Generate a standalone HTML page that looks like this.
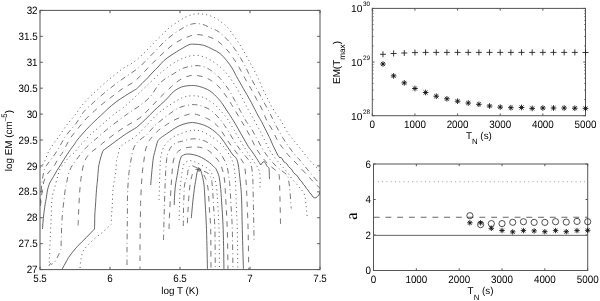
<!DOCTYPE html>
<html><head><meta charset="utf-8"><style>
html,body{margin:0;padding:0;background:#fff;}
svg{display:block;will-change:transform;}
text{font-family:"Liberation Sans",sans-serif;fill:#000;text-rendering:geometricPrecision;}
</style></head><body>
<svg width="600" height="301" viewBox="0 0 600 301">
<defs><clipPath id="cl"><rect x="40.0" y="10.4" width="280.0" height="259.20000000000005"/></clipPath></defs>
<rect width="600" height="301" fill="#fff"/>
<g fill="none" clip-path="url(#cl)">
<path d="M40.00,168.00 C40.67,167.13 42.67,165.33 44.00,162.80 C45.33,160.27 46.83,155.30 48.00,152.80 C49.17,150.30 50.00,149.45 51.00,147.80 C52.00,146.15 52.83,144.55 54.00,142.90 C55.17,141.25 56.67,139.73 58.00,137.90 C59.33,136.07 60.67,133.88 62.00,131.90 C63.33,129.92 64.67,127.82 66.00,126.00 C67.33,124.18 68.33,123.00 70.00,121.00 C71.67,119.00 74.27,116.27 76.00,114.00 C77.73,111.73 78.68,109.67 80.40,107.40 C82.12,105.13 84.35,102.53 86.30,100.40 C88.25,98.27 90.07,96.53 92.10,94.60 C94.13,92.67 96.27,90.85 98.50,88.80 C100.73,86.75 102.92,84.52 105.50,82.30 C108.08,80.08 111.13,77.78 114.00,75.50 C116.87,73.22 119.93,70.52 122.70,68.60 C125.47,66.68 128.17,65.55 130.60,64.00 C133.03,62.45 135.08,61.13 137.30,59.30 C139.52,57.47 141.68,55.13 143.90,53.00 C146.12,50.87 148.53,48.62 150.60,46.50 C152.67,44.38 154.32,42.32 156.30,40.30 C158.28,38.28 160.38,36.45 162.50,34.40 C164.62,32.35 166.75,29.90 169.00,28.00 C171.25,26.10 173.67,24.58 176.00,23.00 C178.33,21.42 180.13,19.97 183.00,18.50 C185.87,17.03 189.85,14.93 193.20,14.20 C196.55,13.47 200.60,13.93 203.10,14.10 C205.60,14.27 206.53,14.73 208.20,15.20 C209.87,15.67 211.63,16.27 213.10,16.90 C214.57,17.53 215.60,18.10 217.00,19.00 C218.40,19.90 219.85,21.02 221.50,22.30 C223.15,23.58 224.93,24.58 226.90,26.70 C228.87,28.82 231.13,31.97 233.30,35.00 C235.47,38.03 237.97,41.87 239.90,44.90 C241.83,47.93 243.23,50.27 244.90,53.20 C246.57,56.13 248.38,59.70 249.90,62.50 C251.42,65.30 252.62,67.37 254.00,70.00 C255.38,72.63 256.67,74.98 258.20,78.30 C259.73,81.62 261.53,86.30 263.20,89.90 C264.87,93.50 266.55,96.72 268.20,99.90 C269.85,103.08 271.72,106.65 273.10,109.00 C274.48,111.35 275.10,111.90 276.50,114.00 C277.90,116.10 279.57,118.38 281.50,121.60 C283.43,124.82 285.88,129.97 288.10,133.30 C290.32,136.63 292.58,138.83 294.80,141.60 C297.02,144.37 299.20,147.13 301.40,149.90 C303.60,152.67 305.73,155.52 308.00,158.20 C310.27,160.88 312.67,163.53 315.00,166.00 C317.33,168.47 320.83,171.83 322.00,173.00 " stroke="#5a5a5a" stroke-width="1" stroke-dasharray="1 3.25"/>
<path d="M40.30,204.00 C40.38,202.67 40.60,198.83 40.80,196.00 C41.00,193.17 41.22,189.92 41.50,187.00 C41.78,184.08 42.08,181.17 42.50,178.50 C42.92,175.83 43.50,172.92 44.00,171.00 C44.50,169.08 44.92,168.17 45.50,167.00 C46.08,165.83 46.58,165.25 47.50,164.00 C48.42,162.75 49.75,161.17 51.00,159.50 C52.25,157.83 53.67,156.00 55.00,154.00 C56.33,152.00 57.67,149.75 59.00,147.50 C60.33,145.25 61.83,142.50 63.00,140.50 C64.17,138.50 64.67,137.33 66.00,135.50 C67.33,133.67 69.33,131.50 71.00,129.50 C72.67,127.50 74.50,125.50 76.00,123.50 C77.50,121.50 78.67,119.50 80.00,117.50 C81.33,115.50 81.70,114.05 84.00,111.50 C86.30,108.95 90.50,105.22 93.80,102.20 C97.10,99.18 100.30,96.32 103.80,93.40 C107.30,90.48 111.10,87.52 114.80,84.70 C118.50,81.88 122.08,79.28 126.00,76.50 C129.92,73.72 134.63,71.00 138.30,68.00 C141.97,65.00 144.88,61.62 148.00,58.50 C151.12,55.38 153.90,52.47 157.00,49.30 C160.10,46.13 162.78,42.75 166.60,39.50 C170.42,36.25 175.75,32.37 179.90,29.80 C184.05,27.23 187.90,25.05 191.50,24.10 C195.10,23.15 198.18,23.40 201.50,24.10 C204.82,24.80 208.48,26.98 211.40,28.30 C214.32,29.62 216.15,29.88 219.00,32.00 C221.85,34.12 225.57,37.73 228.50,41.00 C231.43,44.27 233.97,47.68 236.60,51.60 C239.23,55.52 241.95,60.18 244.30,64.50 C246.65,68.82 248.52,73.27 250.70,77.50 C252.88,81.73 255.18,85.75 257.40,89.90 C259.62,94.05 261.93,98.52 264.00,102.40 C266.07,106.28 267.72,109.17 269.80,113.20 C271.88,117.23 274.28,122.43 276.50,126.60 C278.72,130.77 280.88,134.60 283.10,138.20 C285.32,141.80 287.58,145.15 289.80,148.20 C292.02,151.25 294.73,154.53 296.40,156.50 C298.07,158.47 297.90,157.77 299.80,160.00 C301.70,162.23 304.80,166.27 307.80,169.90 C310.80,173.53 315.43,179.12 317.80,181.80 C320.17,184.48 321.30,185.30 322.00,186.00 " stroke="#666" stroke-width="0.9" stroke-dasharray="5.5 3.2 0.9 3.2"/>
<path d="M40.50,206.00 C40.63,204.67 41.05,200.25 41.30,198.00 C41.55,195.75 41.75,194.33 42.00,192.50 C42.25,190.67 42.50,188.78 42.80,187.00 C43.10,185.22 43.38,183.35 43.80,181.80 C44.22,180.25 44.72,179.00 45.30,177.70 C45.88,176.40 46.52,175.15 47.30,174.00 C48.08,172.85 49.05,171.92 50.00,170.80 C50.95,169.68 52.17,168.35 53.00,167.30 C53.83,166.25 54.00,166.18 55.00,164.50 C56.00,162.82 57.83,159.03 59.00,157.20 C60.17,155.37 61.02,154.98 62.00,153.50 C62.98,152.02 64.07,149.88 64.90,148.30 C65.73,146.72 66.00,145.82 67.00,144.00 C68.00,142.18 69.03,140.03 70.90,137.40 C72.77,134.77 75.60,131.38 78.20,128.20 C80.80,125.02 83.78,121.18 86.50,118.30 C89.22,115.42 91.62,113.48 94.50,110.90 C97.38,108.32 100.70,105.32 103.80,102.80 C106.90,100.28 109.97,98.17 113.10,95.80 C116.23,93.43 119.27,90.83 122.60,88.60 C125.93,86.37 129.98,84.67 133.10,82.40 C136.22,80.13 138.62,77.63 141.30,75.00 C143.98,72.37 146.55,69.33 149.20,66.60 C151.85,63.87 154.58,61.12 157.20,58.60 C159.82,56.08 161.95,54.07 164.90,51.50 C167.85,48.93 171.30,45.55 174.90,43.20 C178.50,40.85 182.90,38.83 186.50,37.40 C190.10,35.97 192.90,34.73 196.50,34.60 C200.10,34.47 204.60,35.53 208.10,36.60 C211.60,37.67 214.35,38.78 217.50,41.00 C220.65,43.22 224.37,47.03 227.00,49.90 C229.63,52.77 231.28,55.28 233.30,58.20 C235.32,61.12 237.17,64.05 239.10,67.40 C241.03,70.75 242.97,74.82 244.90,78.30 C246.83,81.78 248.77,84.83 250.70,88.30 C252.63,91.77 254.57,95.50 256.50,99.10 C258.43,102.70 260.63,106.42 262.30,109.90 C263.97,113.38 264.83,116.67 266.50,120.00 C268.17,123.33 270.50,126.58 272.30,129.90 C274.10,133.22 275.63,136.98 277.30,139.90 C278.97,142.82 280.50,144.90 282.30,147.40 C284.10,149.90 285.82,152.30 288.10,154.90 C290.38,157.50 292.68,159.48 296.00,163.00 C299.32,166.52 304.75,172.50 308.00,176.00 C311.25,179.50 313.17,181.67 315.50,184.00 C317.83,186.33 320.92,189.00 322.00,190.00 " stroke="#666" stroke-width="0.9" stroke-dasharray="5.5 5.5"/>
<path d="M42.50,229.00 C42.58,227.83 42.80,224.33 43.00,222.00 C43.20,219.67 43.37,217.83 43.70,215.00 C44.03,212.17 44.57,207.80 45.00,205.00 C45.43,202.20 45.88,200.70 46.30,198.20 C46.72,195.70 46.95,192.50 47.50,190.00 C48.05,187.50 49.25,184.33 49.60,183.20 L49.60,183.20 C50.25,182.08 52.27,178.62 53.50,176.50 C54.73,174.38 55.83,172.42 57.00,170.50 C58.17,168.58 59.33,166.87 60.50,165.00 C61.67,163.13 62.87,161.10 64.00,159.30 C65.13,157.50 66.22,155.83 67.30,154.20 C68.38,152.57 69.38,151.05 70.50,149.50 C71.62,147.95 72.87,146.50 74.00,144.90 C75.13,143.30 75.20,142.50 77.30,139.90 C79.40,137.30 83.50,132.62 86.60,129.30 C89.70,125.98 93.33,122.48 95.90,120.00 C98.47,117.52 99.43,116.78 102.00,114.40 C104.57,112.02 108.18,108.32 111.30,105.70 C114.42,103.08 117.58,100.85 120.70,98.70 C123.82,96.55 127.38,94.42 130.00,92.80 C132.62,91.18 135.33,89.63 136.40,89.00 L136.40,89.00 C137.33,88.08 140.15,85.33 142.00,83.50 C143.85,81.67 145.67,79.92 147.50,78.00 C149.33,76.08 151.25,73.83 153.00,72.00 C154.75,70.17 156.17,68.92 158.00,67.00 C159.83,65.08 162.00,62.33 164.00,60.50 C166.00,58.67 167.92,57.45 170.00,56.00 C172.08,54.55 174.30,53.17 176.50,51.80 C178.70,50.43 181.12,48.98 183.20,47.80 C185.28,46.62 187.20,45.30 189.00,44.70 C190.80,44.10 191.58,44.10 194.00,44.20 C196.42,44.30 200.33,44.42 203.50,45.30 C206.67,46.18 210.25,48.13 213.00,49.50 C215.75,50.87 217.73,51.67 220.00,53.50 C222.27,55.33 224.60,58.08 226.60,60.50 C228.60,62.92 230.33,65.32 232.00,68.00 C233.67,70.68 234.73,73.22 236.60,76.60 C238.47,79.98 240.98,84.42 243.20,88.30 C245.42,92.18 247.95,96.37 249.90,99.90 C251.85,103.43 253.55,106.90 254.90,109.50 C256.25,112.10 256.90,113.48 258.00,115.50 C259.10,117.52 259.80,118.37 261.50,121.60 C263.20,124.83 266.78,132.08 268.20,134.90 C269.62,137.72 269.70,137.90 270.00,138.50 L270.00,138.50 L271.50,142.00 L273.00,145.50 L276.00,151.50 L278.00,155.50 L280.00,158.00 L281.00,157.20 L282.00,158.50 L284.00,162.00 L285.50,162.60 L287.00,164.00 L288.50,166.50 L290.00,168.00 L291.00,168.60 L292.00,170.00 L293.50,172.60 L295.00,174.00 L296.50,175.00 L298.00,177.00 L300.00,180.00 L302.00,182.00 L303.50,184.60 L305.00,186.00 L306.50,188.60 L308.00,190.00 L309.50,192.60 L311.00,194.00 L313.00,197.00 L315.00,198.00 L316.50,197.50 L317.50,196.00 L319.00,195.00 L320.00,192.00 L322.00,190.00 " stroke="#555" stroke-width="0.9"/>
<path d="M49.30,262.50 C49.30,262.02 49.22,261.68 49.30,259.60 C49.38,257.52 49.65,253.40 49.80,250.00 C49.95,246.60 50.03,242.87 50.20,239.20 C50.37,235.53 50.63,231.70 50.80,228.00 C50.97,224.30 50.98,221.97 51.20,217.00 C51.42,212.03 51.53,203.00 52.10,198.20 C52.67,193.40 53.63,191.98 54.60,188.20 C55.57,184.42 56.92,178.87 57.90,175.50 C58.88,172.13 59.33,170.17 60.50,168.00 C61.67,165.83 63.48,164.33 64.90,162.50 C66.32,160.67 67.48,158.60 69.00,157.00 C70.52,155.40 72.62,154.25 74.00,152.90 C75.38,151.55 76.30,150.12 77.30,148.90 C78.30,147.68 79.00,146.70 80.00,145.60 C81.00,144.50 81.97,143.73 83.30,142.30 C84.63,140.87 86.23,138.78 88.00,137.00 C89.77,135.22 91.07,134.10 93.90,131.60 C96.73,129.10 101.32,125.15 105.00,122.00 C108.68,118.85 113.00,115.03 116.00,112.70 C119.00,110.37 119.83,110.62 123.00,108.00 C126.17,105.38 131.17,100.58 135.00,97.00 C138.83,93.42 142.12,90.18 146.00,86.50 C149.88,82.82 155.13,77.73 158.30,74.90 C161.47,72.07 162.52,71.43 165.00,69.50 C167.48,67.57 170.17,65.17 173.20,63.30 C176.23,61.43 179.87,59.62 183.20,58.30 C186.53,56.98 189.88,55.68 193.20,55.40 C196.52,55.12 199.78,55.57 203.10,56.60 C206.42,57.63 210.03,59.67 213.10,61.60 C216.17,63.53 218.98,65.88 221.50,68.20 C224.02,70.52 225.82,72.43 228.20,75.50 C230.58,78.57 233.43,82.82 235.80,86.60 C238.17,90.38 240.47,94.60 242.40,98.20 C244.33,101.80 245.63,104.90 247.40,108.20 C249.17,111.50 251.07,114.53 253.00,118.00 C254.93,121.47 257.17,125.50 259.00,129.00 C260.83,132.50 262.25,135.50 264.00,139.00 C265.75,142.50 267.67,146.83 269.50,150.00 C271.33,153.17 273.08,155.50 275.00,158.00 C276.92,160.50 279.00,162.67 281.00,165.00 C283.00,167.33 285.00,169.50 287.00,172.00 C289.00,174.50 290.83,177.33 293.00,180.00 C295.17,182.67 298.07,185.50 300.00,188.00 C301.93,190.50 303.60,192.17 304.60,195.00 C305.60,197.83 305.57,201.42 306.00,205.00 C306.43,208.58 307.00,214.58 307.20,216.50 " stroke="#5a5a5a" stroke-width="1" stroke-dasharray="1 3.25"/>
<path d="M48.80,266.00 L50.30,263.60 L51.60,264.30 L54.50,262.30 L54.50,262.30 C54.90,261.63 56.12,259.75 56.90,258.30 C57.68,256.85 58.52,255.07 59.20,253.60 C59.88,252.13 60.70,250.18 61.00,249.50 L61.00,249.50 C61.07,246.85 61.18,239.35 61.40,233.60 C61.62,227.85 61.87,220.60 62.30,215.00 C62.73,209.40 63.48,204.47 64.00,200.00 C64.52,195.53 64.97,191.03 65.40,188.20 C65.83,185.37 66.17,185.03 66.60,183.00 C67.03,180.97 67.45,178.17 68.00,176.00 C68.55,173.83 69.15,171.83 69.90,170.00 C70.65,168.17 71.43,166.68 72.50,165.00 C73.57,163.32 75.05,161.57 76.30,159.90 C77.55,158.23 78.45,156.95 80.00,155.00 C81.55,153.05 83.93,150.03 85.60,148.20 C87.27,146.37 88.35,145.48 90.00,144.00 C91.65,142.52 92.17,142.13 95.50,139.30 C98.83,136.47 104.65,131.25 110.00,127.00 C115.35,122.75 122.67,117.33 127.60,113.80 C132.53,110.27 135.87,108.60 139.60,105.80 C143.33,103.00 146.88,100.47 150.00,97.00 C153.12,93.53 155.80,88.00 158.30,85.00 C160.80,82.00 162.52,80.83 165.00,79.00 C167.48,77.17 170.17,75.80 173.20,74.00 C176.23,72.20 179.60,69.58 183.20,68.20 C186.80,66.82 191.48,65.97 194.80,65.70 C198.12,65.43 200.33,65.77 203.10,66.60 C205.87,67.43 208.58,68.75 211.40,70.70 C214.22,72.65 217.18,75.23 220.00,78.30 C222.82,81.37 225.82,85.37 228.30,89.10 C230.78,92.83 232.83,96.97 234.90,100.70 C236.97,104.43 238.85,108.12 240.70,111.50 C242.55,114.88 244.33,118.33 246.00,121.00 C247.67,123.67 248.95,124.67 250.70,127.50 C252.45,130.33 254.62,134.58 256.50,138.00 C258.38,141.42 260.08,144.83 262.00,148.00 C263.92,151.17 265.83,154.17 268.00,157.00 C270.17,159.83 272.67,162.67 275.00,165.00 C277.33,167.33 280.00,169.33 282.00,171.00 C284.00,172.67 285.90,173.50 287.00,175.00 C288.10,176.50 288.10,177.17 288.60,180.00 C289.10,182.83 289.55,187.25 290.00,192.00 C290.45,196.75 291.08,205.75 291.30,208.50 " stroke="#666" stroke-width="0.9" stroke-dasharray="5.5 3.2 0.9 3.2"/>
<path d="M78.10,225.50 C78.17,223.75 78.32,219.25 78.50,215.00 C78.68,210.75 78.95,204.50 79.20,200.00 C79.45,195.50 79.62,192.17 80.00,188.00 C80.38,183.83 81.00,178.50 81.50,175.00 C82.00,171.50 82.42,169.42 83.00,167.00 C83.58,164.58 84.17,162.42 85.00,160.50 C85.83,158.58 86.83,157.00 88.00,155.50 C89.17,154.00 90.25,152.97 92.00,151.50 C93.75,150.03 96.17,148.53 98.50,146.70 C100.83,144.87 102.75,143.03 106.00,140.50 C109.25,137.97 114.33,134.08 118.00,131.50 C121.67,128.92 124.40,127.25 128.00,125.00 C131.60,122.75 135.93,120.83 139.60,118.00 C143.27,115.17 146.60,111.42 150.00,108.00 C153.40,104.58 156.40,101.08 160.00,97.50 C163.60,93.92 168.28,89.43 171.60,86.50 C174.92,83.57 176.87,81.70 179.90,79.90 C182.93,78.10 186.77,76.40 189.80,75.70 C192.83,75.00 195.57,75.40 198.10,75.70 C200.63,76.00 202.78,76.67 205.00,77.50 C207.22,78.33 208.90,78.95 211.40,80.70 C213.90,82.45 217.32,85.08 220.00,88.00 C222.68,90.92 225.28,94.97 227.50,98.20 C229.72,101.43 231.22,103.98 233.30,107.40 C235.38,110.82 237.92,115.22 240.00,118.70 C242.08,122.18 243.88,124.92 245.80,128.30 C247.72,131.68 249.72,135.55 251.50,139.00 C253.28,142.45 254.75,146.00 256.50,149.00 C258.25,152.00 260.08,154.50 262.00,157.00 C263.92,159.50 266.00,162.00 268.00,164.00 C270.00,166.00 272.33,167.58 274.00,169.00 C275.67,170.42 277.12,171.17 278.00,172.50 C278.88,173.83 278.97,172.42 279.30,177.00 C279.63,181.58 279.78,191.67 280.00,200.00 C280.22,208.33 280.50,222.50 280.60,227.00 " stroke="#666" stroke-width="0.9" stroke-dasharray="5.5 5.5"/>
<path d="M60.00,273.00 C60.38,272.32 61.30,270.73 62.30,268.90 C63.30,267.07 64.77,264.17 66.00,262.00 C67.23,259.83 67.83,258.47 69.70,255.90 C71.57,253.33 74.40,249.70 77.20,246.60 C80.00,243.50 83.62,240.23 86.50,237.30 C89.38,234.37 93.17,230.38 94.50,229.00 L94.50,229.00 C94.53,227.83 94.65,224.33 94.70,222.00 C94.75,219.67 94.67,217.83 94.80,215.00 C94.93,212.17 95.22,209.20 95.50,205.00 C95.78,200.80 96.17,193.97 96.50,189.80 C96.83,185.63 97.20,183.30 97.50,180.00 C97.80,176.70 98.05,172.58 98.30,170.00 C98.55,167.42 98.55,166.73 99.00,164.50 C99.45,162.27 100.33,158.92 101.00,156.60 C101.67,154.28 102.67,151.60 103.00,150.60 L103.00,150.60 C104.65,149.38 109.58,145.73 112.90,143.30 C116.22,140.87 120.62,137.63 122.90,136.00 C125.18,134.37 124.32,134.93 126.60,133.50 C128.88,132.07 134.93,128.42 136.60,127.40 L136.60,127.40 C137.98,126.15 141.87,122.80 144.90,119.90 C147.93,117.00 151.33,113.32 154.80,110.00 C158.27,106.68 162.63,103.00 165.70,100.00 C168.77,97.00 170.57,94.17 173.20,92.00 C175.83,89.83 178.45,88.08 181.50,87.00 C184.55,85.92 188.45,85.57 191.50,85.50 C194.55,85.43 196.75,85.72 199.80,86.60 C202.85,87.48 206.77,88.85 209.80,90.80 C212.83,92.75 215.88,96.10 218.00,98.30 C220.12,100.50 221.10,102.07 222.50,104.00 C223.90,105.93 225.23,108.15 226.40,109.90 C227.57,111.65 228.07,112.27 229.50,114.50 C230.93,116.73 232.98,119.90 235.00,123.30 C237.02,126.70 239.38,131.03 241.60,134.90 C243.82,138.77 246.63,143.82 248.30,146.50 C249.97,149.18 250.22,149.03 251.60,151.00 C252.98,152.97 255.08,155.97 256.60,158.30 C258.12,160.63 260.02,163.88 260.70,165.00 L260.70,165.00 C261.25,164.43 262.88,161.33 264.00,161.60 C265.12,161.87 266.57,165.48 267.40,166.60 C268.23,167.72 268.68,167.07 269.00,168.30 C269.32,169.53 269.22,172.20 269.30,174.00 C269.38,175.80 269.47,178.25 269.50,179.10 " stroke="#555" stroke-width="0.9"/>
<path d="M80.00,272.00 C80.00,271.48 79.85,270.97 80.00,268.90 C80.15,266.83 80.28,262.70 80.90,259.60 C81.52,256.50 81.85,253.40 83.70,250.30 C85.55,247.20 88.75,244.10 92.00,241.00 C95.25,237.90 100.00,234.48 103.20,231.70 C106.40,228.92 109.87,225.53 111.20,224.30 L111.20,224.30 C111.27,222.75 111.42,218.22 111.60,215.00 C111.78,211.78 112.05,209.47 112.30,205.00 C112.55,200.53 112.55,193.50 113.10,188.20 C113.65,182.90 115.02,177.90 115.60,173.20 C116.18,168.50 116.18,163.03 116.60,160.00 C117.02,156.97 117.53,157.08 118.10,155.00 C118.67,152.92 118.68,149.58 120.00,147.50 C121.32,145.42 124.33,143.75 126.00,142.50 C127.67,141.25 128.33,141.08 130.00,140.00 C131.67,138.92 133.78,137.83 136.00,136.00 C138.22,134.17 139.87,132.52 143.30,129.00 C146.73,125.48 152.17,118.92 156.60,114.90 C161.03,110.88 165.47,107.82 169.90,104.90 C174.33,101.98 179.32,98.92 183.20,97.40 C187.08,95.88 189.88,95.80 193.20,95.80 C196.52,95.80 199.78,96.15 203.10,97.40 C206.42,98.65 210.05,100.93 213.10,103.30 C216.15,105.67 218.92,108.83 221.40,111.60 C223.88,114.37 225.90,116.83 228.00,119.90 C230.10,122.97 231.83,126.32 234.00,130.00 C236.17,133.68 238.67,138.17 241.00,142.00 C243.33,145.83 245.83,149.67 248.00,153.00 C250.17,156.33 252.33,159.50 254.00,162.00 C255.67,164.50 257.00,165.83 258.00,168.00 C259.00,170.17 259.67,171.33 260.00,175.00 C260.33,178.67 260.00,187.50 260.00,190.00 " stroke="#5a5a5a" stroke-width="1" stroke-dasharray="1 3.25"/>
<path d="M127.00,265.00 C127.00,262.50 126.97,255.83 127.00,250.00 C127.03,244.17 127.13,235.83 127.20,230.00 C127.27,224.17 127.37,220.00 127.40,215.00 C127.43,210.00 127.30,205.00 127.40,200.00 C127.50,195.00 127.72,189.73 128.00,185.00 C128.28,180.27 128.60,175.77 129.10,171.60 C129.60,167.43 130.35,163.60 131.00,160.00 C131.65,156.40 132.17,152.67 133.00,150.00 C133.83,147.33 134.67,145.83 136.00,144.00 C137.33,142.17 139.17,140.58 141.00,139.00 C142.83,137.42 144.67,136.75 147.00,134.50 C149.33,132.25 151.47,128.77 155.00,125.50 C158.53,122.23 164.05,117.92 168.20,114.90 C172.35,111.88 175.73,109.12 179.90,107.40 C184.07,105.68 189.33,104.73 193.20,104.60 C197.07,104.47 200.07,105.58 203.10,106.60 C206.13,107.62 208.63,108.63 211.40,110.70 C214.17,112.77 217.48,116.50 219.70,119.00 C221.92,121.50 222.98,123.20 224.70,125.70 C226.42,128.20 228.12,130.95 230.00,134.00 C231.88,137.05 234.00,141.00 236.00,144.00 C238.00,147.00 240.17,149.67 242.00,152.00 C243.83,154.33 245.50,156.00 247.00,158.00 C248.50,160.00 250.08,161.17 251.00,164.00 C251.92,166.83 252.17,171.50 252.50,175.00 C252.83,178.50 252.83,179.17 253.00,185.00 C253.17,190.83 253.35,202.50 253.50,210.00 C253.65,217.50 253.82,224.58 253.90,230.00 C253.98,235.42 253.98,240.42 254.00,242.50 " stroke="#666" stroke-width="0.9" stroke-dasharray="5.5 3.2 0.9 3.2"/>
<path d="M140.00,272.00 C140.00,268.33 139.97,257.00 140.00,250.00 C140.03,243.00 140.12,236.67 140.20,230.00 C140.28,223.33 140.42,215.03 140.50,210.00 C140.58,204.97 140.53,204.13 140.70,199.80 C140.87,195.47 141.22,188.70 141.50,184.00 C141.78,179.30 141.98,175.60 142.40,171.60 C142.82,167.60 143.48,163.60 144.00,160.00 C144.52,156.40 144.83,152.75 145.50,150.00 C146.17,147.25 147.25,145.23 148.00,143.50 C148.75,141.77 148.28,141.77 150.00,139.60 C151.72,137.43 155.53,133.00 158.30,130.50 C161.07,128.00 163.48,126.55 166.60,124.60 C169.72,122.65 173.13,120.57 177.00,118.80 C180.87,117.03 186.28,114.65 189.80,114.00 C193.32,113.35 194.77,113.92 198.10,114.90 C201.43,115.88 206.48,117.97 209.80,119.90 C213.12,121.83 215.63,123.98 218.00,126.50 C220.37,129.02 222.00,132.08 224.00,135.00 C226.00,137.92 228.00,141.17 230.00,144.00 C232.00,146.83 234.17,149.50 236.00,152.00 C237.83,154.50 239.58,156.67 241.00,159.00 C242.42,161.33 243.67,162.50 244.50,166.00 C245.33,169.50 245.58,174.33 246.00,180.00 C246.42,185.67 246.65,191.70 247.00,200.00 C247.35,208.30 247.80,217.80 248.10,229.80 C248.40,241.80 248.68,264.97 248.80,272.00 " stroke="#666" stroke-width="0.9" stroke-dasharray="5.5 5.5"/>
<path d="M150.70,185.00 C150.83,183.33 151.20,178.33 151.50,175.00 C151.80,171.67 152.17,168.00 152.50,165.00 C152.83,162.00 153.08,159.33 153.50,157.00 C153.92,154.67 154.33,153.53 155.00,151.00 C155.67,148.47 156.67,143.88 157.50,141.80 C158.33,139.72 158.48,139.83 160.00,138.50 C161.52,137.17 163.57,135.83 166.60,133.80 C169.63,131.77 174.32,128.15 178.20,126.30 C182.08,124.45 186.30,123.12 189.90,122.70 C193.50,122.28 196.48,122.92 199.80,123.80 C203.12,124.68 206.47,125.92 209.80,128.00 C213.13,130.08 216.75,132.98 219.80,136.30 C222.85,139.62 225.90,144.78 228.10,147.90 C230.30,151.02 231.62,153.23 233.00,155.00 C234.38,156.77 235.52,156.83 236.40,158.50 C237.28,160.17 237.78,162.25 238.30,165.00 C238.82,167.75 239.12,171.67 239.50,175.00 C239.88,178.33 240.25,181.00 240.60,185.00 C240.95,189.00 241.32,191.53 241.60,199.00 C241.88,206.47 241.98,217.63 242.30,229.80 C242.62,241.97 243.30,264.97 243.50,272.00 " stroke="#555" stroke-width="0.9"/>
<path d="M159.00,200.00 C159.05,198.33 159.17,194.17 159.30,190.00 C159.43,185.83 159.63,179.67 159.80,175.00 C159.97,170.33 160.02,165.62 160.30,162.00 C160.58,158.38 160.97,155.72 161.50,153.30 C162.03,150.88 162.65,149.23 163.50,147.50 C164.35,145.77 165.18,144.48 166.60,142.90 C168.02,141.32 170.07,139.38 172.00,138.00 C173.93,136.62 174.95,135.85 178.20,134.60 C181.45,133.35 187.62,131.05 191.50,130.50 C195.38,129.95 197.90,130.07 201.50,131.30 C205.10,132.53 209.52,135.45 213.10,137.90 C216.68,140.35 220.18,142.98 223.00,146.00 C225.82,149.02 228.25,152.92 230.00,156.00 C231.75,159.08 232.67,161.33 233.50,164.50 C234.33,167.67 234.65,171.87 235.00,175.00 C235.35,178.13 235.35,177.47 235.60,183.30 C235.85,189.13 236.22,202.25 236.50,210.00 C236.78,217.75 237.08,219.47 237.30,229.80 C237.52,240.13 237.72,264.97 237.80,272.00 " stroke="#5a5a5a" stroke-width="1" stroke-dasharray="1 3.25"/>
<path d="M163.50,240.00 C163.58,236.67 163.78,227.80 164.00,220.00 C164.22,212.20 164.55,200.70 164.80,193.20 C165.05,185.70 165.20,180.53 165.50,175.00 C165.80,169.47 166.18,163.67 166.60,160.00 C167.02,156.33 167.17,155.30 168.00,153.00 C168.83,150.70 170.27,147.87 171.60,146.20 C172.93,144.53 174.33,143.82 176.00,143.00 C177.67,142.18 178.73,142.00 181.60,141.30 C184.47,140.60 189.60,138.95 193.20,138.80 C196.80,138.65 199.88,139.17 203.20,140.40 C206.52,141.63 210.10,143.82 213.10,146.20 C216.10,148.58 218.92,151.48 221.20,154.70 C223.48,157.92 225.53,161.82 226.80,165.50 C228.07,169.18 228.30,173.55 228.80,176.80 C229.30,180.05 229.43,180.30 229.80,185.00 C230.17,189.70 230.58,197.53 231.00,205.00 C231.42,212.47 231.97,218.63 232.30,229.80 C232.63,240.97 232.88,264.97 233.00,272.00 " stroke="#666" stroke-width="0.9" stroke-dasharray="5.5 3.2 0.9 3.2"/>
<path d="M169.00,229.00 C169.08,226.67 169.23,220.67 169.50,215.00 C169.77,209.33 170.27,200.83 170.60,195.00 C170.93,189.17 171.18,184.50 171.50,180.00 C171.82,175.50 172.17,171.33 172.50,168.00 C172.83,164.67 172.82,162.50 173.50,160.00 C174.18,157.50 174.98,154.92 176.60,153.00 C178.22,151.08 180.43,149.50 183.20,148.50 C185.97,147.50 190.15,147.13 193.20,147.00 C196.25,146.87 198.73,146.95 201.50,147.70 C204.27,148.45 207.02,149.37 209.80,151.50 C212.58,153.63 216.08,157.42 218.20,160.50 C220.32,163.58 221.45,166.75 222.50,170.00 C223.55,173.25 224.00,175.83 224.50,180.00 C225.00,184.17 225.03,186.70 225.50,195.00 C225.97,203.30 226.88,216.97 227.30,229.80 C227.72,242.63 227.88,264.97 228.00,272.00 " stroke="#666" stroke-width="0.9" stroke-dasharray="5.5 5.5"/>
<path d="M174.20,205.00 C174.27,203.33 174.38,198.33 174.60,195.00 C174.82,191.67 175.07,188.28 175.50,185.00 C175.93,181.72 176.53,179.13 177.20,175.30 C177.87,171.47 178.78,165.22 179.50,162.00 C180.22,158.78 181.17,157.00 181.50,156.00 L181.50,156.00 C182.33,155.68 184.52,154.33 186.50,154.10 C188.48,153.87 190.88,154.03 193.40,154.60 C195.92,155.17 198.88,156.13 201.60,157.50 C204.32,158.87 207.30,160.92 209.70,162.80 C212.10,164.68 214.95,167.80 216.00,168.80 L216.00,168.80 C216.50,170.07 218.25,173.38 219.00,176.40 C219.75,179.42 220.08,182.97 220.50,186.90 C220.92,190.83 221.05,192.85 221.50,200.00 C221.95,207.15 222.78,217.80 223.20,229.80 C223.62,241.80 223.87,264.97 224.00,272.00 " stroke="#555" stroke-width="0.9"/>
<path d="M179.10,220.00 C179.17,217.50 179.35,210.00 179.50,205.00 C179.65,200.00 179.75,194.17 180.00,190.00 C180.25,185.83 180.58,183.33 181.00,180.00 C181.42,176.67 181.98,172.67 182.50,170.00 C183.02,167.33 183.05,165.55 184.10,164.00 C185.15,162.45 187.37,161.15 188.80,160.70 C190.23,160.25 191.40,160.97 192.70,161.30 C194.00,161.63 195.28,162.13 196.60,162.70 C197.92,163.27 199.32,164.05 200.60,164.70 C201.88,165.35 203.07,165.95 204.30,166.60 C205.53,167.25 206.88,167.70 208.00,168.60 C209.12,169.50 210.08,170.52 211.00,172.00 C211.92,173.48 212.67,175.50 213.50,177.50 C214.33,179.50 215.33,180.25 216.00,184.00 C216.67,187.75 217.00,192.37 217.50,200.00 C218.00,207.63 218.67,217.80 219.00,229.80 C219.33,241.80 219.42,264.97 219.50,272.00 " stroke="#5a5a5a" stroke-width="1" stroke-dasharray="1 3.25"/>
<path d="M183.30,226.00 C183.33,223.33 183.38,215.17 183.50,210.00 C183.62,204.83 183.83,199.17 184.00,195.00 C184.17,190.83 184.08,187.80 184.50,185.00 C184.92,182.20 185.98,180.12 186.50,178.20 C187.02,176.28 187.27,175.20 187.60,173.50 C187.93,171.80 187.98,169.37 188.50,168.00 C189.02,166.63 189.52,165.42 190.70,165.30 C191.88,165.18 194.05,166.68 195.60,167.30 C197.15,167.92 198.67,168.38 200.00,169.00 C201.33,169.62 202.22,170.25 203.60,171.00 C204.98,171.75 207.07,172.33 208.30,173.50 C209.53,174.67 210.32,175.82 211.00,178.00 C211.68,180.18 211.98,182.10 212.40,186.60 C212.82,191.10 213.08,197.80 213.50,205.00 C213.92,212.20 214.60,218.63 214.90,229.80 C215.20,240.97 215.23,264.97 215.30,272.00 " stroke="#666" stroke-width="0.9" stroke-dasharray="5.5 3.2 0.9 3.2"/>
<path d="M187.40,223.20 C187.50,221.00 187.73,214.70 188.00,210.00 C188.27,205.30 188.67,199.17 189.00,195.00 C189.33,190.83 189.55,188.07 190.00,185.00 C190.45,181.93 191.15,178.77 191.70,176.60 C192.25,174.43 192.67,173.18 193.30,172.00 C193.93,170.82 194.55,169.92 195.50,169.50 C196.45,169.08 197.92,169.17 199.00,169.50 C200.08,169.83 201.00,170.20 202.00,171.50 C203.00,172.80 204.25,175.72 205.00,177.30 C205.75,178.88 205.97,178.88 206.50,181.00 C207.03,183.12 207.70,185.17 208.20,190.00 C208.70,194.83 209.08,203.37 209.50,210.00 C209.92,216.63 210.45,219.47 210.70,229.80 C210.95,240.13 210.95,264.97 211.00,272.00 " stroke="#666" stroke-width="0.9" stroke-dasharray="5.5 5.5"/>
<path d="M191.30,218.20 C191.42,216.83 191.72,213.03 192.00,210.00 C192.28,206.97 192.57,203.83 193.00,200.00 C193.43,196.17 194.13,190.33 194.60,187.00 C195.07,183.67 195.47,182.00 195.80,180.00 C196.13,178.00 196.32,176.58 196.60,175.00 C196.88,173.42 197.17,171.73 197.50,170.50 C197.83,169.27 198.42,168.08 198.60,167.60 L198.60,167.60 C198.92,168.00 200.02,169.10 200.50,170.00 C200.98,170.90 201.15,171.78 201.50,173.00 C201.85,174.22 202.18,175.30 202.60,177.30 C203.02,179.30 203.60,181.22 204.00,185.00 C204.40,188.78 204.58,192.53 205.00,200.00 C205.42,207.47 206.08,217.80 206.50,229.80 C206.92,241.80 207.33,264.97 207.50,272.00 " stroke="#555" stroke-width="0.9"/>
<circle cx="199.1" cy="169.9" r="1.3" fill="none" stroke="#555" stroke-width="0.9"/>
</g>
<rect x="40.0" y="10.4" width="280.00" height="259.20" fill="none" stroke="#555" stroke-width="1.0"/>
<path d="M40.00,269.6 v-2.8 M40.00,10.4 v2.8" stroke="#555" stroke-width="1.0"/>
<text transform="translate(40.00,281.80) scale(0.965,1.05)" text-anchor="middle" font-size="10.2" >5.5</text>
<path d="M110.00,269.6 v-2.8 M110.00,10.4 v2.8" stroke="#555" stroke-width="1.0"/>
<text transform="translate(110.00,281.80) scale(0.965,1.05)" text-anchor="middle" font-size="10.2" >6</text>
<path d="M180.00,269.6 v-2.8 M180.00,10.4 v2.8" stroke="#555" stroke-width="1.0"/>
<text transform="translate(180.00,281.80) scale(0.965,1.05)" text-anchor="middle" font-size="10.2" >6.5</text>
<path d="M250.00,269.6 v-2.8 M250.00,10.4 v2.8" stroke="#555" stroke-width="1.0"/>
<text transform="translate(250.00,281.80) scale(0.965,1.05)" text-anchor="middle" font-size="10.2" >7</text>
<path d="M320.00,269.6 v-2.8 M320.00,10.4 v2.8" stroke="#555" stroke-width="1.0"/>
<text transform="translate(320.00,281.80) scale(0.965,1.05)" text-anchor="middle" font-size="10.2" >7.5</text>
<path d="M40.0,269.60 h2.8 M320.0,269.60 h-2.8" stroke="#555" stroke-width="1.0"/>
<text transform="translate(37.60,273.20) scale(0.965,1.05)" text-anchor="end" font-size="10.2" >27</text>
<path d="M40.0,243.68 h2.8 M320.0,243.68 h-2.8" stroke="#555" stroke-width="1.0"/>
<text transform="translate(37.60,247.28) scale(0.965,1.05)" text-anchor="end" font-size="10.2" >27.5</text>
<path d="M40.0,217.76 h2.8 M320.0,217.76 h-2.8" stroke="#555" stroke-width="1.0"/>
<text transform="translate(37.60,221.36) scale(0.965,1.05)" text-anchor="end" font-size="10.2" >28</text>
<path d="M40.0,191.84 h2.8 M320.0,191.84 h-2.8" stroke="#555" stroke-width="1.0"/>
<text transform="translate(37.60,195.44) scale(0.965,1.05)" text-anchor="end" font-size="10.2" >28.5</text>
<path d="M40.0,165.92 h2.8 M320.0,165.92 h-2.8" stroke="#555" stroke-width="1.0"/>
<text transform="translate(37.60,169.52) scale(0.965,1.05)" text-anchor="end" font-size="10.2" >29</text>
<path d="M40.0,140.00 h2.8 M320.0,140.00 h-2.8" stroke="#555" stroke-width="1.0"/>
<text transform="translate(37.60,143.60) scale(0.965,1.05)" text-anchor="end" font-size="10.2" >29.5</text>
<path d="M40.0,114.08 h2.8 M320.0,114.08 h-2.8" stroke="#555" stroke-width="1.0"/>
<text transform="translate(37.60,117.68) scale(0.965,1.05)" text-anchor="end" font-size="10.2" >30</text>
<path d="M40.0,88.16 h2.8 M320.0,88.16 h-2.8" stroke="#555" stroke-width="1.0"/>
<text transform="translate(37.60,91.76) scale(0.965,1.05)" text-anchor="end" font-size="10.2" >30.5</text>
<path d="M40.0,62.24 h2.8 M320.0,62.24 h-2.8" stroke="#555" stroke-width="1.0"/>
<text transform="translate(37.60,65.84) scale(0.965,1.05)" text-anchor="end" font-size="10.2" >31</text>
<path d="M40.0,36.32 h2.8 M320.0,36.32 h-2.8" stroke="#555" stroke-width="1.0"/>
<text transform="translate(37.60,39.92) scale(0.965,1.05)" text-anchor="end" font-size="10.2" >31.5</text>
<path d="M40.0,10.40 h2.8 M320.0,10.40 h-2.8" stroke="#555" stroke-width="1.0"/>
<text transform="translate(37.60,14.00) scale(0.965,1.05)" text-anchor="end" font-size="10.2" >32</text>
<text x="180.00" y="293.60" text-anchor="middle" font-size="9.9" >log T (K)</text>
<text transform="translate(11.8,140.6) rotate(-90)" text-anchor="middle" font-size="9.9">log EM (cm<tspan dy="-4.6" font-size="6.6">&#8211;</tspan><tspan font-size="8">5</tspan><tspan dy="4.6">)</tspan></text>
<rect x="372.3" y="8.4" width="213.20" height="107.30" fill="none" stroke="#555" stroke-width="1.0"/>
<path d="M372.30,115.7 v-2.2 M372.30,8.4 v2.2" stroke="#555" stroke-width="1.0"/>
<text transform="translate(372.30,128.00) scale(0.965,1.05)" text-anchor="middle" font-size="10.2" >0</text>
<path d="M414.94,115.7 v-2.2 M414.94,8.4 v2.2" stroke="#555" stroke-width="1.0"/>
<text transform="translate(414.94,128.00) scale(0.965,1.05)" text-anchor="middle" font-size="10.2" >1000</text>
<path d="M457.58,115.7 v-2.2 M457.58,8.4 v2.2" stroke="#555" stroke-width="1.0"/>
<text transform="translate(457.58,128.00) scale(0.965,1.05)" text-anchor="middle" font-size="10.2" >2000</text>
<path d="M500.22,115.7 v-2.2 M500.22,8.4 v2.2" stroke="#555" stroke-width="1.0"/>
<text transform="translate(500.22,128.00) scale(0.965,1.05)" text-anchor="middle" font-size="10.2" >3000</text>
<path d="M542.86,115.7 v-2.2 M542.86,8.4 v2.2" stroke="#555" stroke-width="1.0"/>
<text transform="translate(542.86,128.00) scale(0.965,1.05)" text-anchor="middle" font-size="10.2" >4000</text>
<path d="M585.50,115.7 v-2.2 M585.50,8.4 v2.2" stroke="#555" stroke-width="1.0"/>
<text transform="translate(585.50,128.00) scale(0.965,1.05)" text-anchor="middle" font-size="10.2" >5000</text>
<path d="M372.3,99.55 h1.3 M585.5,99.55 h-1.3" stroke="#555" stroke-width="0.8"/>
<path d="M372.3,90.10 h1.3 M585.5,90.10 h-1.3" stroke="#555" stroke-width="0.8"/>
<path d="M372.3,83.40 h1.3 M585.5,83.40 h-1.3" stroke="#555" stroke-width="0.8"/>
<path d="M372.3,78.20 h1.3 M585.5,78.20 h-1.3" stroke="#555" stroke-width="0.8"/>
<path d="M372.3,73.95 h1.3 M585.5,73.95 h-1.3" stroke="#555" stroke-width="0.8"/>
<path d="M372.3,70.36 h1.3 M585.5,70.36 h-1.3" stroke="#555" stroke-width="0.8"/>
<path d="M372.3,67.25 h1.3 M585.5,67.25 h-1.3" stroke="#555" stroke-width="0.8"/>
<path d="M372.3,64.50 h1.3 M585.5,64.50 h-1.3" stroke="#555" stroke-width="0.8"/>
<path d="M372.3,45.90 h1.3 M585.5,45.90 h-1.3" stroke="#555" stroke-width="0.8"/>
<path d="M372.3,36.45 h1.3 M585.5,36.45 h-1.3" stroke="#555" stroke-width="0.8"/>
<path d="M372.3,29.75 h1.3 M585.5,29.75 h-1.3" stroke="#555" stroke-width="0.8"/>
<path d="M372.3,24.55 h1.3 M585.5,24.55 h-1.3" stroke="#555" stroke-width="0.8"/>
<path d="M372.3,20.30 h1.3 M585.5,20.30 h-1.3" stroke="#555" stroke-width="0.8"/>
<path d="M372.3,16.71 h1.3 M585.5,16.71 h-1.3" stroke="#555" stroke-width="0.8"/>
<path d="M372.3,13.60 h1.3 M585.5,13.60 h-1.3" stroke="#555" stroke-width="0.8"/>
<path d="M372.3,10.85 h1.3 M585.5,10.85 h-1.3" stroke="#555" stroke-width="0.8"/>
<path d="M372.3,115.70 h2.2 M585.5,115.70 h-2.2" stroke="#555" stroke-width="1.0"/>
<text x="362.40" y="119.50" text-anchor="end" font-size="10.2">10</text>
<text x="362.90" y="113.70" text-anchor="start" font-size="6.4">28</text>
<path d="M372.3,62.05 h2.2 M585.5,62.05 h-2.2" stroke="#555" stroke-width="1.0"/>
<text x="362.40" y="65.85" text-anchor="end" font-size="10.2">10</text>
<text x="362.90" y="60.05" text-anchor="start" font-size="6.4">29</text>
<path d="M372.3,8.40 h2.2 M585.5,8.40 h-2.2" stroke="#555" stroke-width="1.0"/>
<text x="362.40" y="12.20" text-anchor="end" font-size="10.2">10</text>
<text x="362.90" y="6.40" text-anchor="start" font-size="6.4">30</text>
<text x="478.90" y="138.90" text-anchor="middle" font-size="9.9" >T<tspan dy="5.2" font-size="7.8">N</tspan><tspan dy="-5.2"> (s)</tspan></text>
<text transform="translate(339.6,62.5) rotate(-90)" text-anchor="middle" font-size="9.9">EM(T<tspan dy="5.2" font-size="8.2">max</tspan><tspan dy="-5.2">)</tspan></text>
<path d="M379.96,54.30 h6.0 M382.96,51.30 v6.0" stroke="#222" stroke-width="0.9"/>
<path d="M380.16,64.00 L385.76,64.00 M380.98,62.02 L384.94,65.98 M382.96,61.20 L382.96,66.80 M384.94,62.02 L380.98,65.98 " stroke="#111" stroke-width="0.9"/>
<path d="M390.62,53.50 h6.0 M393.62,50.50 v6.0" stroke="#222" stroke-width="0.9"/>
<path d="M390.82,75.90 L396.42,75.90 M391.64,73.92 L395.60,77.88 M393.62,73.10 L393.62,78.70 M395.60,73.92 L391.64,77.88 " stroke="#111" stroke-width="0.9"/>
<path d="M401.28,53.00 h6.0 M404.28,50.00 v6.0" stroke="#222" stroke-width="0.9"/>
<path d="M401.48,82.90 L407.08,82.90 M402.30,80.92 L406.26,84.88 M404.28,80.10 L404.28,85.70 M406.26,80.92 L402.30,84.88 " stroke="#111" stroke-width="0.9"/>
<path d="M411.94,52.60 h6.0 M414.94,49.60 v6.0" stroke="#222" stroke-width="0.9"/>
<path d="M412.14,88.50 L417.74,88.50 M412.96,86.52 L416.92,90.48 M414.94,85.70 L414.94,91.30 M416.92,86.52 L412.96,90.48 " stroke="#111" stroke-width="0.9"/>
<path d="M422.60,52.40 h6.0 M425.60,49.40 v6.0" stroke="#222" stroke-width="0.9"/>
<path d="M422.80,92.50 L428.40,92.50 M423.62,90.52 L427.58,94.48 M425.60,89.70 L425.60,95.30 M427.58,90.52 L423.62,94.48 " stroke="#111" stroke-width="0.9"/>
<path d="M433.26,52.40 h6.0 M436.26,49.40 v6.0" stroke="#222" stroke-width="0.9"/>
<path d="M433.46,96.20 L439.06,96.20 M434.28,94.22 L438.24,98.18 M436.26,93.40 L436.26,99.00 M438.24,94.22 L434.28,98.18 " stroke="#111" stroke-width="0.9"/>
<path d="M443.92,52.40 h6.0 M446.92,49.40 v6.0" stroke="#222" stroke-width="0.9"/>
<path d="M444.12,98.80 L449.72,98.80 M444.94,96.82 L448.90,100.78 M446.92,96.00 L446.92,101.60 M448.90,96.82 L444.94,100.78 " stroke="#111" stroke-width="0.9"/>
<path d="M454.58,52.40 h6.0 M457.58,49.40 v6.0" stroke="#222" stroke-width="0.9"/>
<path d="M454.78,101.20 L460.38,101.20 M455.60,99.22 L459.56,103.18 M457.58,98.40 L457.58,104.00 M459.56,99.22 L455.60,103.18 " stroke="#111" stroke-width="0.9"/>
<path d="M465.24,52.40 h6.0 M468.24,49.40 v6.0" stroke="#222" stroke-width="0.9"/>
<path d="M465.44,103.00 L471.04,103.00 M466.26,101.02 L470.22,104.98 M468.24,100.20 L468.24,105.80 M470.22,101.02 L466.26,104.98 " stroke="#111" stroke-width="0.9"/>
<path d="M475.90,52.40 h6.0 M478.90,49.40 v6.0" stroke="#222" stroke-width="0.9"/>
<path d="M476.10,104.30 L481.70,104.30 M476.92,102.32 L480.88,106.28 M478.90,101.50 L478.90,107.10 M480.88,102.32 L476.92,106.28 " stroke="#111" stroke-width="0.9"/>
<path d="M486.56,52.40 h6.0 M489.56,49.40 v6.0" stroke="#222" stroke-width="0.9"/>
<path d="M486.76,106.00 L492.36,106.00 M487.58,104.02 L491.54,107.98 M489.56,103.20 L489.56,108.80 M491.54,104.02 L487.58,107.98 " stroke="#111" stroke-width="0.9"/>
<path d="M497.22,52.40 h6.0 M500.22,49.40 v6.0" stroke="#222" stroke-width="0.9"/>
<path d="M497.42,107.10 L503.02,107.10 M498.24,105.12 L502.20,109.08 M500.22,104.30 L500.22,109.90 M502.20,105.12 L498.24,109.08 " stroke="#111" stroke-width="0.9"/>
<path d="M507.88,52.40 h6.0 M510.88,49.40 v6.0" stroke="#222" stroke-width="0.9"/>
<path d="M508.08,107.70 L513.68,107.70 M508.90,105.72 L512.86,109.68 M510.88,104.90 L510.88,110.50 M512.86,105.72 L508.90,109.68 " stroke="#111" stroke-width="0.9"/>
<path d="M518.54,52.40 h6.0 M521.54,49.40 v6.0" stroke="#222" stroke-width="0.9"/>
<path d="M518.74,107.50 L524.34,107.50 M519.56,105.52 L523.52,109.48 M521.54,104.70 L521.54,110.30 M523.52,105.52 L519.56,109.48 " stroke="#111" stroke-width="0.9"/>
<path d="M529.20,52.40 h6.0 M532.20,49.40 v6.0" stroke="#222" stroke-width="0.9"/>
<path d="M529.40,108.40 L535.00,108.40 M530.22,106.42 L534.18,110.38 M532.20,105.60 L532.20,111.20 M534.18,106.42 L530.22,110.38 " stroke="#111" stroke-width="0.9"/>
<path d="M539.86,52.40 h6.0 M542.86,49.40 v6.0" stroke="#222" stroke-width="0.9"/>
<path d="M540.06,108.00 L545.66,108.00 M540.88,106.02 L544.84,109.98 M542.86,105.20 L542.86,110.80 M544.84,106.02 L540.88,109.98 " stroke="#111" stroke-width="0.9"/>
<path d="M550.52,52.40 h6.0 M553.52,49.40 v6.0" stroke="#222" stroke-width="0.9"/>
<path d="M550.72,108.00 L556.32,108.00 M551.54,106.02 L555.50,109.98 M553.52,105.20 L553.52,110.80 M555.50,106.02 L551.54,109.98 " stroke="#111" stroke-width="0.9"/>
<path d="M561.18,52.40 h6.0 M564.18,49.40 v6.0" stroke="#222" stroke-width="0.9"/>
<path d="M561.38,108.00 L566.98,108.00 M562.20,106.02 L566.16,109.98 M564.18,105.20 L564.18,110.80 M566.16,106.02 L562.20,109.98 " stroke="#111" stroke-width="0.9"/>
<path d="M571.84,52.40 h6.0 M574.84,49.40 v6.0" stroke="#222" stroke-width="0.9"/>
<path d="M572.04,108.20 L577.64,108.20 M572.86,106.22 L576.82,110.18 M574.84,105.40 L574.84,111.00 M576.82,106.22 L572.86,110.18 " stroke="#111" stroke-width="0.9"/>
<path d="M582.50,52.50 h6.0 M585.50,49.50 v6.0" stroke="#222" stroke-width="0.9"/>
<path d="M582.70,108.40 L588.30,108.40 M583.52,106.42 L587.48,110.38 M585.50,105.60 L585.50,111.20 M587.48,106.42 L583.52,110.38 " stroke="#111" stroke-width="0.9"/>
<rect x="373.5" y="164.0" width="214.20" height="106.50" fill="none" stroke="#555" stroke-width="1.0"/>
<path d="M373.50,270.5 v-2.2 M373.50,164.0 v2.2" stroke="#555" stroke-width="1.0"/>
<text transform="translate(373.50,282.70) scale(0.965,1.05)" text-anchor="middle" font-size="10.2" >0</text>
<path d="M416.34,270.5 v-2.2 M416.34,164.0 v2.2" stroke="#555" stroke-width="1.0"/>
<text transform="translate(416.34,282.70) scale(0.965,1.05)" text-anchor="middle" font-size="10.2" >1000</text>
<path d="M459.18,270.5 v-2.2 M459.18,164.0 v2.2" stroke="#555" stroke-width="1.0"/>
<text transform="translate(459.18,282.70) scale(0.965,1.05)" text-anchor="middle" font-size="10.2" >2000</text>
<path d="M502.02,270.5 v-2.2 M502.02,164.0 v2.2" stroke="#555" stroke-width="1.0"/>
<text transform="translate(502.02,282.70) scale(0.965,1.05)" text-anchor="middle" font-size="10.2" >3000</text>
<path d="M544.86,270.5 v-2.2 M544.86,164.0 v2.2" stroke="#555" stroke-width="1.0"/>
<text transform="translate(544.86,282.70) scale(0.965,1.05)" text-anchor="middle" font-size="10.2" >4000</text>
<path d="M587.70,270.5 v-2.2 M587.70,164.0 v2.2" stroke="#555" stroke-width="1.0"/>
<text transform="translate(587.70,282.70) scale(0.965,1.05)" text-anchor="middle" font-size="10.2" >5000</text>
<path d="M373.5,270.50 h2.2 M587.7,270.50 h-2.2" stroke="#555" stroke-width="1.0"/>
<text transform="translate(370.90,274.10) scale(0.965,1.05)" text-anchor="end" font-size="10.2" >0</text>
<path d="M373.5,235.00 h2.2 M587.7,235.00 h-2.2" stroke="#555" stroke-width="1.0"/>
<text transform="translate(370.90,238.60) scale(0.965,1.05)" text-anchor="end" font-size="10.2" >2</text>
<path d="M373.5,199.50 h2.2 M587.7,199.50 h-2.2" stroke="#555" stroke-width="1.0"/>
<text transform="translate(370.90,203.10) scale(0.965,1.05)" text-anchor="end" font-size="10.2" >4</text>
<path d="M373.5,164.00 h2.2 M587.7,164.00 h-2.2" stroke="#555" stroke-width="1.0"/>
<text transform="translate(370.90,167.60) scale(0.965,1.05)" text-anchor="end" font-size="10.2" >6</text>
<text x="480.60" y="294.00" text-anchor="middle" font-size="9.9" >T<tspan dy="5.6" font-size="7.8">N</tspan><tspan dy="-5.6"> (s)</tspan></text>
<text transform="translate(356.6,216.2) rotate(-90)" text-anchor="middle" font-size="16.5" style="font-family:&quot;Liberation Serif&quot;,serif">a</text>
<path d="M373.5,181.75 H587.7" stroke="#888" stroke-width="0.9" stroke-dasharray="0.9 3.4"/>
<path d="M373.7,217.25 H587.7" stroke="#555" stroke-width="0.9" stroke-dasharray="5.9 5.84"/>
<path d="M373.5,235.35 H587.7" stroke="#666" stroke-width="1"/>
<circle cx="469.89" cy="215.7" r="3.1" fill="none" stroke="#222" stroke-width="0.8"/>
<path d="M467.19,222.80 L472.59,222.80 M467.98,220.89 L471.80,224.71 M469.89,220.10 L469.89,225.50 M471.80,220.89 L467.98,224.71 " stroke="#111" stroke-width="0.9"/>
<circle cx="480.60" cy="224.6" r="3.1" fill="none" stroke="#222" stroke-width="0.8"/>
<path d="M477.90,222.80 L483.30,222.80 M478.69,220.89 L482.51,224.71 M480.60,220.10 L480.60,225.50 M482.51,220.89 L478.69,224.71 " stroke="#111" stroke-width="0.9"/>
<circle cx="491.31" cy="223.6" r="3.1" fill="none" stroke="#222" stroke-width="0.8"/>
<path d="M488.61,228.30 L494.01,228.30 M489.40,226.39 L493.22,230.21 M491.31,225.60 L491.31,231.00 M493.22,226.39 L489.40,230.21 " stroke="#111" stroke-width="0.9"/>
<circle cx="502.02" cy="223.6" r="3.1" fill="none" stroke="#222" stroke-width="0.8"/>
<path d="M499.32,230.50 L504.72,230.50 M500.11,228.59 L503.93,232.41 M502.02,227.80 L502.02,233.20 M503.93,228.59 L500.11,232.41 " stroke="#111" stroke-width="0.9"/>
<circle cx="512.73" cy="222.3" r="3.1" fill="none" stroke="#222" stroke-width="0.8"/>
<path d="M510.03,231.90 L515.43,231.90 M510.82,229.99 L514.64,233.81 M512.73,229.20 L512.73,234.60 M514.64,229.99 L510.82,233.81 " stroke="#111" stroke-width="0.9"/>
<circle cx="523.44" cy="221.7" r="3.1" fill="none" stroke="#222" stroke-width="0.8"/>
<path d="M520.74,230.60 L526.14,230.60 M521.53,228.69 L525.35,232.51 M523.44,227.90 L523.44,233.30 M525.35,228.69 L521.53,232.51 " stroke="#111" stroke-width="0.9"/>
<circle cx="534.15" cy="222.4" r="3.1" fill="none" stroke="#222" stroke-width="0.8"/>
<path d="M531.45,230.90 L536.85,230.90 M532.24,228.99 L536.06,232.81 M534.15,228.20 L534.15,233.60 M536.06,228.99 L532.24,232.81 " stroke="#111" stroke-width="0.9"/>
<circle cx="544.86" cy="222.4" r="3.1" fill="none" stroke="#222" stroke-width="0.8"/>
<path d="M542.16,231.70 L547.56,231.70 M542.95,229.79 L546.77,233.61 M544.86,229.00 L544.86,234.40 M546.77,229.79 L542.95,233.61 " stroke="#111" stroke-width="0.9"/>
<circle cx="555.57" cy="221.7" r="3.1" fill="none" stroke="#222" stroke-width="0.8"/>
<path d="M552.87,230.60 L558.27,230.60 M553.66,228.69 L557.48,232.51 M555.57,227.90 L555.57,233.30 M557.48,228.69 L553.66,232.51 " stroke="#111" stroke-width="0.9"/>
<circle cx="566.28" cy="222.1" r="3.1" fill="none" stroke="#222" stroke-width="0.8"/>
<path d="M563.58,231.70 L568.98,231.70 M564.37,229.79 L568.19,233.61 M566.28,229.00 L566.28,234.40 M568.19,229.79 L564.37,233.61 " stroke="#111" stroke-width="0.9"/>
<circle cx="576.99" cy="221.4" r="3.1" fill="none" stroke="#222" stroke-width="0.8"/>
<path d="M574.29,230.60 L579.69,230.60 M575.08,228.69 L578.90,232.51 M576.99,227.90 L576.99,233.30 M578.90,228.69 L575.08,232.51 " stroke="#111" stroke-width="0.9"/>
<circle cx="587.70" cy="221.7" r="3.1" fill="none" stroke="#222" stroke-width="0.8"/>
<path d="M585.00,230.30 L590.40,230.30 M585.79,228.39 L589.61,232.21 M587.70,227.60 L587.70,233.00 M589.61,228.39 L585.79,232.21 " stroke="#111" stroke-width="0.9"/>
</svg></body></html>
